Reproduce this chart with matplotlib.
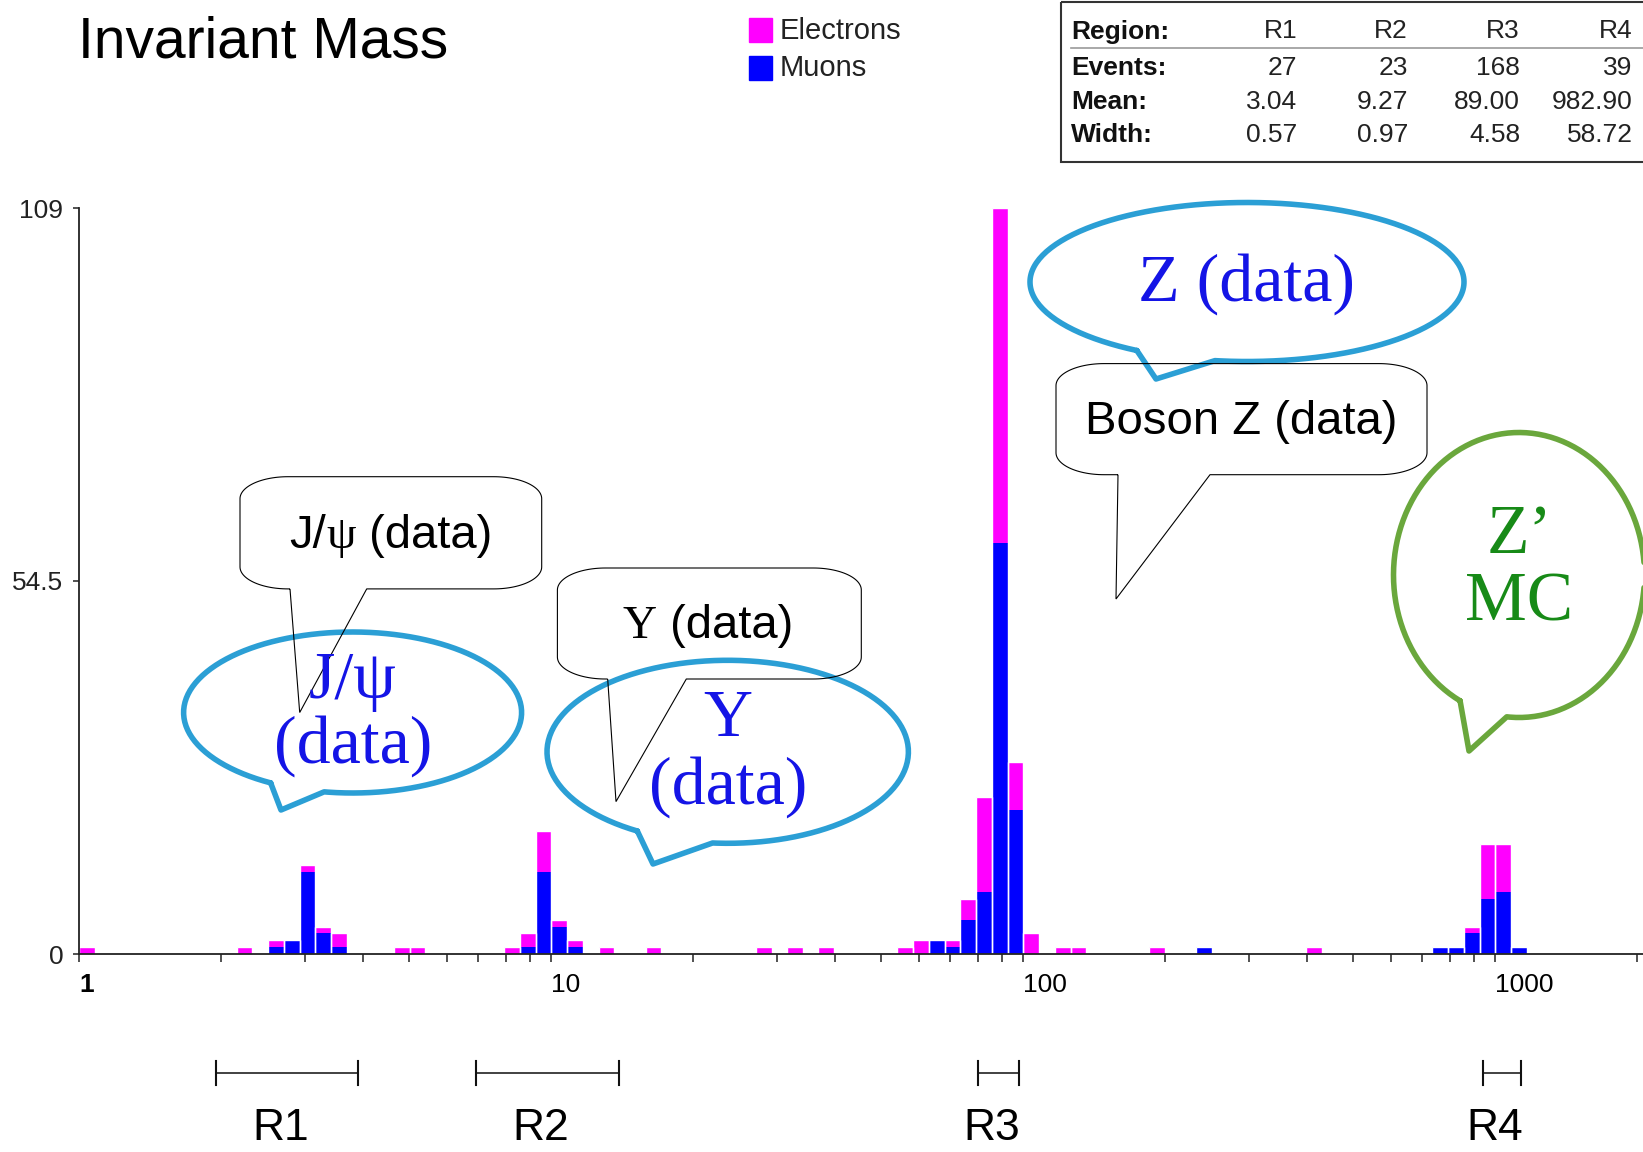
import numpy as np
import matplotlib
matplotlib.use("Agg")
import matplotlib.pyplot as plt
from matplotlib.patches import Rectangle, PathPatch
from matplotlib.path import Path
from matplotlib.ticker import FixedLocator, FixedFormatter, NullFormatter
from matplotlib.transforms import blended_transform_factory, offset_copy
from matplotlib.offsetbox import TextArea, HPacker, AnnotationBbox

W, H = 1643, 1152
SANS = ["Liberation Sans", "DejaVu Sans"]
SERIF = ["Liberation Serif", "DejaVu Serif"]

# histogram: log bins, 30 per decade; lower edge of each filled bin (GeV)
BINS_PER_DECADE = 30
bin_lo = [1.0, 2.154, 2.512, 2.712, 2.929, 3.162, 3.415, 4.642, 5.012,
          7.943, 8.577, 9.261, 10.0, 10.80, 12.59, 15.85, 27.18, 31.62, 36.81,
          54.12, 58.43, 63.10, 68.13, 73.56, 79.43, 85.77, 92.61, 100.0,
          116.6, 125.9, 184.8, 232.6, 398.1, 736.0, 794.3, 857.7, 926.1, 1000.0, 1080.0]
muons = [0, 0, 1, 2, 12, 3, 1, 0, 0,
         0, 1, 12, 4, 1, 0, 0, 0, 0, 0,
         0, 0, 2, 1, 5, 9, 60, 21, 0,
         0, 0, 0, 1, 0, 1, 1, 3, 8, 9, 1]
electrons = [1, 1, 1, 0, 1, 1, 2, 1, 1,
             1, 2, 6, 1, 1, 1, 1, 1, 1, 1,
             1, 2, 0, 1, 3, 14, 49, 7, 3,
             1, 1, 1, 0, 1, 0, 0, 1, 8, 7, 0]

y_ticks = [0, 54.5, 109]
y_tick_labels = ["0", "54.5", "109"]
x_ticks = [1, 10, 100, 1000]
x_tick_labels = ["1", "10", "100", "1000"]

# summary table
regions = ["R1", "R2", "R3", "R4"]
events = [27, 23, 168, 39]
means = [3.04, 9.27, 89.00, 982.90]
widths = [0.57, 0.97, 4.58, 58.72]

# mass ranges of the region brackets
region_lo = [1.95, 6.93, 80.3, 941.0]
region_hi = [3.9, 13.9, 97.7, 1132.0]

MAGENTA = "#ff00ff"
BLUE = "#0000ff"
CYAN = "#2b9fd5"
GREEN = "#6aa73c"
TXT_BLUE = "#1414e6"
TXT_GREEN = "#178a17"


def ellipse_bubble(ov, cx, cy, a, b, t_left, t_right, tip, color):
    t = np.radians(np.linspace(t_left, 360 + t_right, 240))
    xs = cx + a * np.cos(t)
    ys = cy + b * np.sin(t)
    verts = list(zip(xs, ys)) + [tip, (xs[0], ys[0])]
    ov.add_patch(PathPatch(Path(verts), facecolor="none", edgecolor=color,
                           lw=4.0, joinstyle="round", capstyle="round"))


def box_bubble(ov, x0, y0, x1, y1, base_l, base_r, tip, rx=48, ry=22):
    def arc(cx, cy, t0, t1):
        t = np.radians(np.linspace(t0, t1, 30))
        return list(zip(cx + rx * np.cos(t), cy + ry * np.sin(t)))
    v = [(base_l, y1), (x0 + rx, y1)]
    v += arc(x0 + rx, y1 - ry, 90, 180)
    v += arc(x0 + rx, y0 + ry, 180, 270)
    v += arc(x1 - rx, y0 + ry, 270, 360)
    v += arc(x1 - rx, y1 - ry, 0, 90)
    v += [(base_r, y1), tip, (base_l, y1)]
    ov.add_patch(PathPatch(Path(v), facecolor="none", edgecolor="black", lw=0.8))


def mixed_text(ov, x, y, pieces, size, color="black"):
    areas = [TextArea(s, textprops=dict(family=fam, size=size, color=color))
             for s, fam in pieces]
    pack = HPacker(children=areas, align="baseline", pad=0, sep=0)
    ab = AnnotationBbox(pack, (x, y), xycoords="data", frameon=False,
                        box_alignment=(0.5, 0.5), pad=0)
    ov.add_artist(ab)


fig = plt.figure(figsize=(W / 100, H / 100), dpi=100)

x0_px, base_px, top_px = 79.3, 954.0, 208.0
ax = fig.add_axes([x0_px / W, (H - base_px) / H, 1 - x0_px / W, (base_px - top_px) / H])

lo = np.array(bin_lo)
wd = lo * (10 ** (1 / BINS_PER_DECADE) - 1)
mu = np.array(muons)
el = np.array(electrons)
tot = mu + el
ax.bar(lo, tot, width=wd, align="edge", color=MAGENTA, linewidth=0, zorder=1)
ax.bar(lo, mu, width=wd, align="edge", color=BLUE, linewidth=0, zorder=1.1)
ax.bar(lo, tot, width=wd, align="edge", facecolor="none", edgecolor="white",
       linewidth=1.0, zorder=1.2)

ax.set_xscale("log")
ax.set_xlim(1, 10 ** ((W - x0_px) / 472))
ax.set_ylim(0, 109)
for s in ("top", "right"):
    ax.spines[s].set_visible(False)
for s in ("left", "bottom"):
    ax.spines[s].set_color("#222222")
    ax.spines[s].set_linewidth(1.3)

ax.xaxis.set_major_locator(FixedLocator(x_ticks))
ax.xaxis.set_major_formatter(FixedFormatter(x_tick_labels))
minor = [m * 10 ** e for e in range(4) for m in range(2, 10) if m * 10 ** e < 2055]
ax.xaxis.set_minor_locator(FixedLocator(minor))
ax.xaxis.set_minor_formatter(NullFormatter())
ax.tick_params(axis="x", which="both", direction="out", length=6, width=1.1,
               color="#222222", pad=8, labelsize=19)
ax.set_yticks(y_ticks)
ax.set_yticklabels(y_tick_labels)
ax.tick_params(axis="y", direction="out", length=4.5, width=1.1, color="#222222",
               pad=7, labelsize=19)
for lab in ax.get_xticklabels():
    lab.set_horizontalalignment("left")
    lab.set_family(SANS)
for lab in ax.get_yticklabels():
    lab.set_family(SANS)
    lab.set_color("#222222")
ax.get_xticklabels()[0].set_fontweight("bold")

# overlay in figure pixels (y down)
ov = fig.add_axes([0, 0, 1, 1], zorder=5)
ov.set_xlim(0, W)
ov.set_ylim(H, 0)
ov.axis("off")

ov.text(78, 57, "Invariant Mass", family=SANS, size=41, va="baseline", ha="left")

ov.add_patch(Rectangle((749, 18), 23, 24, color=MAGENTA))
ov.add_patch(Rectangle((749, 55.5), 23, 24, color=BLUE))
ov.text(780, 31, "Electrons", family=SANS, size=21, va="center", color="#222222")
ov.text(780, 68, "Muons", family=SANS, size=21, va="center", color="#222222")

# table
ov.add_patch(Rectangle((1060.5, 2), 600, 160, facecolor="none",
                       edgecolor="#333333", lw=1.5, clip_on=False))
ov.plot([1071, W], [48, 48], color="#999999", lw=1.2)
row_y = [31.5, 68, 101.6, 135]
col_x = [1297, 1408, 1520, 1632.5]
row_names = ["Region:", "Events:", "Mean:", "Width:"]
rows = [regions, [str(v) for v in events],
        [f"{v:.2f}" for v in means], [f"{v:.2f}" for v in widths]]
for yy, name, vals in zip(row_y, row_names, rows):
    ov.text(1071, yy, name, family=SANS, size=19, weight="bold", va="center", color="#111111")
    for xx, v in zip(col_x, vals):
        ov.text(xx, yy, v, family=SANS, size=19, va="center", ha="right", color="#222222")

# region brackets below the axis
bt = blended_transform_factory(ax.transData, ov.transData)
for name, a, b in zip(regions, region_lo, region_hi):
    ov.plot([a, b], [1073, 1073], color="#333333", lw=1.3, transform=bt, clip_on=False)
    for e in (a, b):
        ov.plot([e, e], [1061, 1085], color="#111111", lw=1.5, transform=bt, clip_on=False)
    ov.text(np.sqrt(a * b), 1129, name, family=SANS, size=32, ha="center", va="center",
            transform=offset_copy(bt, fig=fig, x=-7, y=0, units="dots"))

# speech bubbles
ellipse_bubble(ov, 1247, 282, 217, 79.5, 120.5, 98.5, (1156, 379), CYAN)
ellipse_bubble(ov, 352.6, 712.5, 169, 80.5, 119, 99.7, (281, 810), CYAN)
ellipse_bubble(ov, 727.7, 751.8, 180.7, 91.5, 120, 94.8, (653, 864), CYAN)
ellipse_bubble(ov, 1519, 575, 125.5, 142.5, 118, 95.6, (1469, 751), GREEN)

box_bubble(ov, 1056, 363.6, 1427, 474.7, 1118, 1210, (1116, 599))
box_bubble(ov, 240, 476.7, 541.7, 588.9, 290, 366.7, (299.7, 712.5))
box_bubble(ov, 557.4, 568, 861.3, 679, 607.7, 686.3, (616, 801.6))

ov.text(1247, 284, "Z (data)", family=SERIF, size=49, color=TXT_BLUE, ha="center", va="center")
mixed_text(ov, 353, 681, [("J/ψ", SERIF)], 49, TXT_BLUE)
ov.text(353, 746, "(data)", family=SERIF, size=49, color=TXT_BLUE, ha="center", va="center")
ov.text(728, 720, "Υ", family=SERIF, size=49, color=TXT_BLUE, ha="center", va="center")
ov.text(728, 787, "(data)", family=SERIF, size=49, color=TXT_BLUE, ha="center", va="center")
ov.text(1519, 536, "Z’", family=SERIF, size=50, color=TXT_GREEN, ha="center", va="center")
ov.text(1519, 604, "MC", family=SERIF, size=50, color=TXT_GREEN, ha="center", va="center")

ov.text(1241.6, 422, "Boson Z (data)", family=SANS, size=34, ha="center", va="center")
mixed_text(ov, 391, 536, [("J/", SANS), ("ψ", SERIF), (" (data)", SANS)], 34)
mixed_text(ov, 708, 626, [("Υ", SERIF), (" (data)", SANS)], 34)

fig.savefig("out.png", dpi=100, facecolor="white")
